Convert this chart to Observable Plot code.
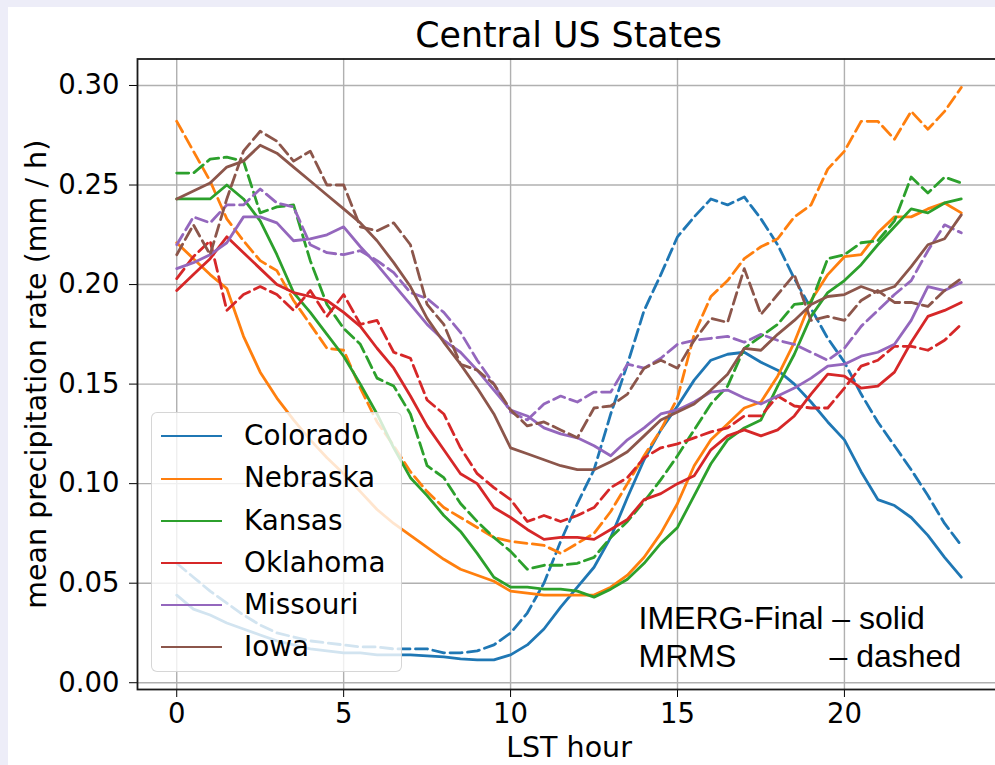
<!DOCTYPE html>
<html>
<head>
<meta charset="utf-8">
<script src="https://cdn.jsdelivr.net/npm/d3@7"></script>
<script src="https://cdn.jsdelivr.net/npm/@observablehq/plot@0.6"></script>
<style>
  html, body { margin: 0; padding: 0; }
  body { width: 995px; height: 765px; overflow: hidden; position: relative; background: #ededf8; font-family: "DejaVu Sans", sans-serif; }
  #panel { position: absolute; left: 8px; top: 7px; right: 0; bottom: 0; background: #ffffff; }
  #title { position: absolute; left: 268.5px; width: 600px; top: 18px; text-align: center; font-size: 34.8px; line-height: 35px; color: #000; font-family: "DejaVu Sans", sans-serif; }
  #chart { position: absolute; left: 0; top: 50px; }
  #legend { position: absolute; left: 150.5px; top: 412px; width: 251px; height: 260px; background: rgba(255,255,255,0.8); border: 1.5px solid rgba(204,204,204,0.8); border-radius: 6px; box-sizing: border-box; }
  .lline { position: absolute; height: 0; border-top: 2.7px solid; }
  .ltext { position: absolute; font-size: 27.8px; color: #000; white-space: nowrap; font-family: "DejaVu Sans", sans-serif; }
</style>
</head>
<body>
<div id="panel"></div>
<div id="title">Central US States</div>
<div id="chart"></div>
<div id="legend"></div>
<script>
// ---- data ----
const hours = [0,0.5,1,1.5,2,2.5,3,3.5,4,4.5,5,5.5,6,6.5,7,7.5,8,8.5,9,9.5,10,10.5,11,11.5,
               12,12.5,13,13.5,14,14.5,15,15.5,16,16.5,17,17.5,18,18.5,19,19.5,20,20.5,21,21.5,22,22.5,23,23.5];

const states = ["Colorado", "Nebraska", "Kansas", "Oklahoma", "Missouri", "Iowa"];
const stateColors = ["#1f77b4", "#ff7f0e", "#2ca02c", "#d62728", "#9467bd", "#8c564b"];

// IMERG-Final (solid)
const coloradoImerg = [0.044,0.037,0.034,0.030,0.027,0.024,0.021,0.019,0.017,0.016,0.015,0.015,0.014,0.014,0.014,0.0135,0.013,0.012,0.0115,0.0115,
  0.014,0.019,0.027,0.038,0.048,0.058,0.073,0.093,0.112,0.127,0.139,0.152,0.162,0.165,0.166,0.161,0.157,0.150,0.141,0.131,0.122,0.106,0.092,0.089,0.083,0.074,0.063,0.053];
const nebraskaImerg = [0.221,0.213,0.205,0.198,0.174,0.156,0.143,0.132,0.122,0.113,0.105,0.096,0.087,0.080,0.074,0.068,0.062,0.057,0.054,0.051,
  0.046,0.045,0.044,0.044,0.044,0.044,0.048,0.054,0.063,0.075,0.090,0.109,0.122,0.130,0.138,0.141,0.154,0.171,0.192,0.205,0.214,0.215,0.226,0.234,0.234,0.238,0.241,0.236];
const kansasImerg = [0.243,0.243,0.243,0.250,0.243,0.232,0.215,0.196,0.186,0.175,0.164,0.150,0.135,0.118,0.103,0.094,0.084,0.076,0.065,0.053,
  0.048,0.048,0.047,0.047,0.046,0.043,0.047,0.052,0.060,0.070,0.078,0.094,0.110,0.122,0.128,0.132,0.149,0.165,0.184,0.196,0.202,0.210,0.220,0.229,0.238,0.236,0.241,0.243];
const oklahomaImerg = [0.197,0.205,0.213,0.224,0.216,0.208,0.200,0.196,0.194,0.192,0.186,0.179,0.168,0.158,0.144,0.129,0.117,0.105,0.100,0.088,
  0.083,0.077,0.072,0.073,0.073,0.072,0.077,0.082,0.092,0.095,0.100,0.104,0.117,0.124,0.127,0.124,0.127,0.134,0.145,0.155,0.154,0.148,0.149,0.156,0.171,0.184,0.187,0.191];
const missouriImerg = [0.208,0.211,0.215,0.221,0.234,0.234,0.231,0.222,0.223,0.225,0.229,0.219,0.210,0.200,0.190,0.180,0.172,0.166,0.157,0.147,
  0.137,0.134,0.128,0.125,0.123,0.119,0.114,0.122,0.128,0.135,0.137,0.141,0.146,0.147,0.143,0.140,0.144,0.148,0.153,0.159,0.160,0.164,0.166,0.170,0.182,0.199,0.197,0.201];
const iowaImerg = [0.243,0.247,0.251,0.259,0.262,0.270,0.266,0.259,0.252,0.245,0.238,0.231,0.222,0.211,0.199,0.183,0.171,0.160,0.148,0.135,
  0.118,0.115,0.112,0.109,0.107,0.107,0.111,0.116,0.124,0.132,0.136,0.140,0.147,0.155,0.168,0.167,0.175,0.182,0.190,0.194,0.195,0.199,0.196,0.199,0.209,0.220,0.223,0.235];

// MRMS (dashed)
const coloradoMrms = [0.060,0.053,0.046,0.040,0.034,0.029,0.025,0.023,0.021,0.020,0.019,0.018,0.018,0.017,0.017,0.017,0.015,0.015,0.016,0.019,
  0.025,0.035,0.050,0.071,0.090,0.107,0.135,0.160,0.187,0.205,0.224,0.234,0.243,0.240,0.244,0.233,0.220,0.203,0.188,0.173,0.161,0.145,0.131,0.119,0.107,0.094,0.080,0.069];
const nebraskaMrms = [0.282,0.267,0.252,0.233,0.222,0.212,0.207,0.192,0.180,0.168,0.167,0.148,0.131,0.119,0.106,0.096,0.088,0.083,0.078,0.073,
  0.071,0.070,0.069,0.065,0.070,0.075,0.086,0.100,0.114,0.127,0.143,0.175,0.194,0.202,0.213,0.219,0.223,0.234,0.240,0.258,0.267,0.282,0.282,0.273,0.287,0.278,0.287,0.299];
const kansasMrms = [0.256,0.256,0.263,0.264,0.262,0.236,0.239,0.240,0.212,0.190,0.178,0.170,0.153,0.149,0.135,0.109,0.103,0.090,0.081,0.073,
  0.066,0.057,0.059,0.059,0.060,0.063,0.073,0.081,0.091,0.102,0.114,0.127,0.140,0.149,0.168,0.174,0.180,0.190,0.191,0.213,0.215,0.221,0.222,0.232,0.254,0.246,0.254,0.251];
const oklahomaMrms = [0.203,0.214,0.222,0.187,0.195,0.199,0.195,0.187,0.197,0.184,0.195,0.180,0.182,0.166,0.163,0.142,0.135,0.118,0.105,0.098,
  0.092,0.081,0.084,0.081,0.084,0.088,0.098,0.103,0.113,0.118,0.120,0.123,0.126,0.128,0.134,0.134,0.144,0.139,0.138,0.138,0.148,0.159,0.162,0.169,0.169,0.167,0.172,0.180];
const missouriMrms = [0.220,0.234,0.231,0.240,0.240,0.248,0.241,0.239,0.220,0.216,0.215,0.217,0.212,0.206,0.196,0.193,0.186,0.176,0.162,0.150,
  0.136,0.132,0.140,0.144,0.141,0.146,0.146,0.160,0.158,0.163,0.170,0.172,0.173,0.174,0.171,0.175,0.172,0.170,0.166,0.162,0.168,0.179,0.187,0.195,0.202,0.217,0.230,0.226];
const iowaMrms = [0.215,0.230,0.215,0.243,0.267,0.277,0.272,0.262,0.267,0.250,0.250,0.229,0.227,0.231,0.220,0.190,0.180,0.160,0.157,0.150,
  0.137,0.129,0.131,0.127,0.123,0.138,0.139,0.145,0.158,0.162,0.158,0.172,0.183,0.181,0.208,0.185,0.195,0.205,0.182,0.184,0.182,0.192,0.197,0.191,0.191,0.189,0.197,0.203];

const xTicks = [0, 5, 10, 15, 20];
const yTicks = [0.00, 0.05, 0.10, 0.15, 0.20, 0.25, 0.30];
const yLabel = "mean precipitation rate (mm / h)";
const xLabel = "LST hour";
const noteSolid = "IMERG-Final \u2013 solid";
const noteMrms = "MRMS";
const noteDashed = "\u2013 dashed";

// ---- build table ----
const imergSeries = [coloradoImerg, nebraskaImerg, kansasImerg, oklahomaImerg, missouriImerg, iowaImerg];
const mrmsSeries = [coloradoMrms, nebraskaMrms, kansasMrms, oklahomaMrms, missouriMrms, iowaMrms];
const rows = [];
states.forEach((s, i) => {
  imergSeries[i].forEach((v, j) => rows.push({state: s, product: "IMERG", hour: hours[j], value: v}));
  mrmsSeries[i].forEach((v, j) => rows.push({state: s, product: "MRMS", hour: hours[j], value: v}));
});

const lineMarks = [];
states.forEach(s => {
  lineMarks.push(Plot.line(rows.filter(d => d.state === s && d.product === "IMERG"),
    {x: "hour", y: "value", stroke: "state", strokeWidth: 2.8}));
  lineMarks.push(Plot.line(rows.filter(d => d.state === s && d.product === "MRMS"),
    {x: "hour", y: "value", stroke: "state", strokeWidth: 2.8, strokeDasharray: "12,5.5"}));
});

const chart = Plot.plot({
  width: 995,
  height: 715,
  marginLeft: 137,
  marginRight: -5,
  marginTop: 8.5,
  marginBottom: 76,
  style: {background: "transparent", fontFamily: "DejaVu Sans, sans-serif", fontSize: "27.5px", color: "#000"},
  x: {domain: [-1.175, 24.675], ticks: xTicks, tickSize: 8, tickPadding: 6, label: null, tickFormat: d => String(d)},
  y: {domain: [-0.0034, 0.3133], ticks: yTicks, tickSize: 8, tickPadding: 10, label: null, tickFormat: d3.format(".2f")},
  color: {domain: states, range: stateColors},
  marks: [
    Plot.ruleX(xTicks, {stroke: "#b0b0b0", strokeWidth: 1.4}),
    Plot.ruleY(yTicks, {stroke: "#b0b0b0", strokeWidth: 1.4}),
    ...lineMarks,
    Plot.frame({stroke: "#1a1a1a", strokeWidth: 1.8}),
    Plot.text([yLabel], {text: d => d, frameAnchor: "left", dx: -101, rotate: -90, textAnchor: "middle", lineAnchor: "middle", fontSize: 28.5, fill: "#000"}),
    Plot.text([xLabel], {text: d => d, frameAnchor: "bottom", dy: 58, textAnchor: "middle", lineAnchor: "middle", fontSize: 28.5, fill: "#000"}),
    Plot.text([noteSolid], {text: d => d, frameAnchor: "top-left", dx: 501, dy: 570, textAnchor: "start", lineAnchor: "bottom", fontSize: 32, fontFamily: "Liberation Sans, Arial, sans-serif", fill: "#000"}),
    Plot.text([noteMrms], {text: d => d, frameAnchor: "top-left", dx: 501, dy: 607.5, textAnchor: "start", lineAnchor: "bottom", fontSize: 32, fontFamily: "Liberation Sans, Arial, sans-serif", fill: "#000"}),
    Plot.text([noteDashed], {text: d => d, frameAnchor: "top-left", dx: 692, dy: 607.5, textAnchor: "start", lineAnchor: "bottom", fontSize: 32, fontFamily: "Liberation Sans, Arial, sans-serif", fill: "#000"})
  ]
});
document.getElementById("chart").appendChild(chart);

// ---- legend (semi-transparent box like matplotlib) ----
const legend = document.getElementById("legend");
states.forEach((s, i) => {
  const cy = 435.7 + i * 42.2 - 412;   // center relative to legend box
  const ln = document.createElement("div");
  ln.className = "lline";
  ln.style.left = (160 - 150.5) + "px";
  ln.style.width = "61px";
  ln.style.top = (cy - 1.35) + "px";
  ln.style.borderTopColor = stateColors[i];
  legend.appendChild(ln);
  const tx = document.createElement("div");
  tx.className = "ltext";
  tx.style.left = (243 - 150.5) + "px";
  tx.style.top = (cy - 16.5) + "px";
  tx.style.lineHeight = "32px";
  tx.textContent = s;
  legend.appendChild(tx);
});
</script>
</body>
</html>
